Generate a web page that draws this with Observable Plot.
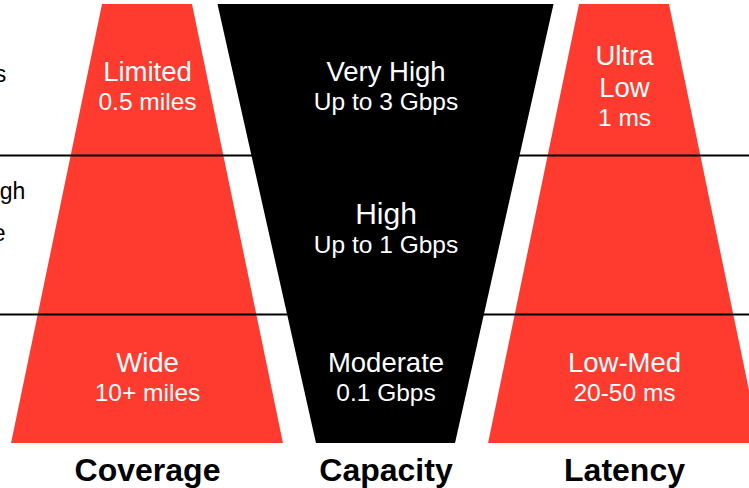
<!DOCTYPE html>
<html>
<head>
<meta charset="utf-8">
<script src="https://cdn.jsdelivr.net/npm/d3@7"></script>
<script src="https://cdn.jsdelivr.net/npm/@observablehq/plot@0.6"></script>
<style>
  html, body { margin: 0; padding: 0; background: #fff; overflow: hidden; }
  #chart svg { display: block; }
</style>
</head>
<body>
<div id="chart"></div>
<script>
// ---- data ----
const columns = ["Coverage", "Capacity", "Latency"];
const columnColors = ["#ff3b30", "#000000", "#ff3b30"];
// funnel width at top and bottom, in units of column spacing
const topWidths = [0.377, 1.409, 0.377];
const bottomWidths = [1.140, 0.583, 1.140];
const tiers = ["High band", "Mid band", "Low band"];
const tierBounds = [0, 0.344, 0.706, 1];
const titles = [
  ["Limited", "Very High", "Ultra\nLow"],
  ["", "High", ""],
  ["Wide", "Moderate", "Low-Med"]
];
const values = [
  ["0.5 miles", "Up to 3 Gbps", "1 ms"],
  ["", "Up to 1 Gbps", ""],
  ["10+ miles", "0.1 Gbps", "20-50 ms"]
];
const rowLabels = [
  ["Fastest top speeds"],
  ["Balanced speeds, high", "and solid coverage"],
  ["Longest reach"]
];

// ---- layout helpers ----
const W = 749, H = 488;
const yPx = d3.scaleLinear([0, 1], [4, 443]);
const xPx = d3.scaleLinear([0, 1], [147, 385.5]);
const FONT = "'Liberation Sans', Arial, Helvetica, sans-serif";
const labelNudge = [5.5, -7.5, -2.5];

const shapes = columns.flatMap((col, c) => [
  {col, y: 0, x1: c - topWidths[c] / 2, x2: c + topWidths[c] / 2, fill: columnColors[c]},
  {col, y: 1, x1: c - bottomWidths[c] / 2, x2: c + bottomWidths[c] / 2, fill: columnColors[c]}
]);

const cellLines = [];
tiers.forEach((tier, r) => {
  const center = (yPx(tierBounds[r]) + yPx(tierBounds[r + 1])) / 2 + labelNudge[r];
  columns.forEach((col, c) => {
    if (!titles[r][c]) return;
    const t = titles[r][c].split("\n");
    const fsT = r === 1 ? 30 : 27.5;
    const lines = [];
    let b = 0;
    t.forEach((s, i) => { if (i) b += 32; lines.push({text: s, size: fsT, b}); });
    b += 29;
    lines.push({text: values[r][c], size: 24.5, b});
    const mid = (-0.72 * fsT + b) / 2;
    lines.forEach(l => cellLines.push({x: c, y: yPx.invert(center - mid + l.b), text: l.text, size: l.size}));
  });
});

const rowFirstBaseline = [81, 198, 372];
const rowLineGap = 42;
const rowLines = rowLabels.flatMap((lines, r) =>
  lines.map((text, i) => ({x: -1, y: yPx.invert(rowFirstBaseline[r] + i * rowLineGap), text})));

const bottomLabels = columns.map((col, c) => ({x: c, y: yPx.invert(480), text: col}));

const bySize = d3.groups(cellLines, d => d.size);

const chart = Plot.plot({
  width: W,
  height: H,
  margin: 0,
  style: {fontFamily: FONT, background: "#fff", overflow: "hidden"},
  x: {domain: [xPx.invert(0), xPx.invert(W)], range: [0, W], axis: null},
  y: {domain: [0, 1], range: [4, 443], axis: null},
  marks: [
    Plot.areaX(shapes, {y: "y", x1: "x1", x2: "x2", z: "col", fill: "fill"}),
    Plot.ruleY(tierBounds.slice(1, -1), {stroke: "#000", strokeWidth: 2}),
    ...bySize.map(([size, data]) => Plot.text(data, {
      x: "x", y: "y", text: "text", fill: "#fff", fontSize: size,
      lineAnchor: "bottom", textAnchor: "middle", fontFamily: FONT
    })),
    Plot.text(rowLines, {
      x: "x", y: "y", text: "text", fill: "#000", fontSize: 23,
      lineAnchor: "bottom", textAnchor: "middle", fontFamily: FONT
    }),
    Plot.text(bottomLabels, {
      x: "x", y: "y", text: "text", fill: "#000", fontSize: 32, fontWeight: "bold",
      lineAnchor: "bottom", textAnchor: "middle", fontFamily: FONT
    })
  ]
});
document.getElementById("chart").appendChild(chart);
</script>
</body>
</html>
